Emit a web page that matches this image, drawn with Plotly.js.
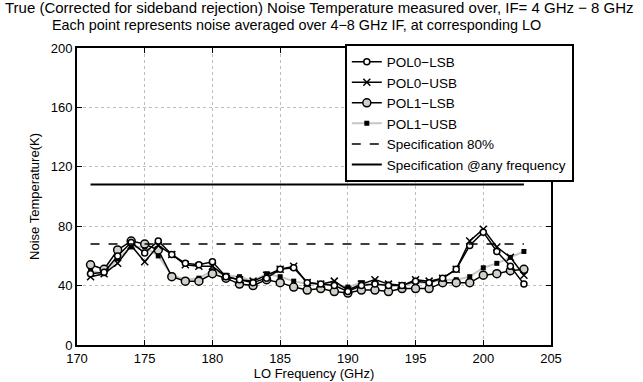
<!DOCTYPE html>
<html>
<head>
<meta charset="utf-8">
<script src="https://cdn.plot.ly/plotly-3.0.1.min.js"></script>
<style>html,body{margin:0;padding:0;background:#fff;}#chart{width:643px;height:382px;}</style>
</head>
<body>
<div id="chart"></div>
<script>
const loFreq = [171,172,173,174,175,176,177,178,179,180,181,182,183,184,185,186,187,188,189,190,191,192,193,194,195,196,197,198,199,200,201,202,203];
const pol0Lsb = [48,49,60,69,62,70,61,55,54,56,46,44,42,45,51,52,42,41,40,36,40,41,40,40,43,42,45,51,67,76,63,53,41];
const pol0Usb = [46,48,55,67,56,67,61,54,53,53,46,44,43,47,51,53,42,41,43,37,41,44,41,40,44,43,45,51,70,78,66,59,47];
const pol1Lsb = [54,51,64,70,68,64,46,43,43,48,45,41,40,44,42,39,37,38,36,35,37,37,36,38,38,38,42,42,42,47,48,50,51];
const pol1Usb = [50,48,58,66,66,60,47,44,45,50,47,46,43,48,46,43,41,41,40,39,42,40,41,40,42,42,44,44,46,52,55,59,63];
const specX = [171,203];
const spec80 = [68,68];
const specAny = [108,108];
const seriesNames = ["POL0\u2212LSB","POL0\u2212USB","POL1\u2212LSB","POL1\u2212USB","Specification 80%","Specification @any frequency"];
const titleLines = ["True (Corrected for sideband rejection) Noise Temperature measured over, IF= 4 GHz \u2212 8 GHz",
                    "Each point represents noise averaged over 4\u22128 GHz IF, at corresponding LO"];

const font = "Liberation Sans, Arial, Helvetica, sans-serif";

const traces = [
  {x: loFreq, y: pol1Usb, name: seriesNames[3], mode: "lines+markers",
   line: {color: "#c9c6bf", width: 2},
   marker: {symbol: "square", size: 5, color: "#000"}, legendrank: 4},
  {x: loFreq, y: pol1Lsb, name: seriesNames[2], mode: "lines+markers",
   line: {color: "#000", width: 1.5},
   marker: {symbol: "circle", size: 8, color: "#d3d0c9", line: {color: "#000", width: 1.5}}, legendrank: 3},
  {x: loFreq, y: pol0Usb, name: seriesNames[1], mode: "lines+markers",
   line: {color: "#000", width: 1.5},
   marker: {symbol: "x-thin", size: 7, line: {color: "#000", width: 1.5}}, legendrank: 2},
  {x: loFreq, y: pol0Lsb, name: seriesNames[0], mode: "lines+markers",
   line: {color: "#000", width: 1.5},
   marker: {symbol: "circle", size: 6, color: "#fff", line: {color: "#000", width: 1.5}}, legendrank: 1},
  {x: specX, y: spec80, name: seriesNames[4], mode: "lines",
   line: {color: "#000", width: 1.5, dash: "dash"}, legendrank: 5},
  {x: specX, y: specAny, name: seriesNames[5], mode: "lines",
   line: {color: "#000", width: 2}, legendrank: 6}
];

const axisCommon = {
  showline: true, linecolor: "#000", linewidth: 2, mirror: "ticks",
  ticks: "inside", ticklen: 5, tickwidth: 1, tickcolor: "#000",
  showgrid: true, gridcolor: "#bdbdbd", griddash: "dot", gridwidth: 1,
  zeroline: false, tickfont: {family: font, size: 13, color: "#000"}
};

const layout = {
  width: 643, height: 382,
  margin: {l: 77, r: 92, t: 48, b: 37},
  paper_bgcolor: "#fff", plot_bgcolor: "#fff",
  font: {family: font, size: 13, color: "#000"},
  showlegend: true,
  legend: {x: 0.565, y: 1.012, xanchor: "left", yanchor: "top",
    bgcolor: "#fff", bordercolor: "#000", borderwidth: 2,
    font: {family: font, size: 13.5, color: "#000"}, tracegroupgap: 0, itemwidth: 30},
  xaxis: Object.assign({}, axisCommon, {range: [170, 205], dtick: 5, tick0: 170,
    title: {text: "LO Frequency (GHz)", font: {family: font, size: 13, color: "#000"}, standoff: 0}}),
  yaxis: Object.assign({}, axisCommon, {range: [0, 200], dtick: 40, tick0: 0,
    title: {text: "Noise Temperature(K)", font: {family: font, size: 13, color: "#000"}, standoff: 8}}),
  annotations: [
    {text: titleLines[0], xref: "paper", yref: "paper", x: -0.156, y: 1.135, xanchor: "left", yanchor: "middle",
     showarrow: false, font: {family: font, size: 15, color: "#000"}},
    {text: titleLines[1], xref: "paper", yref: "paper", x: -0.057, y: 1.076, xanchor: "left", yanchor: "middle",
     showarrow: false, font: {family: font, size: 14.4, color: "#000"}}
  ]
};

Plotly.newPlot("chart", traces, layout, {displayModeBar: false, staticPlot: true});
</script>
</body>
</html>
